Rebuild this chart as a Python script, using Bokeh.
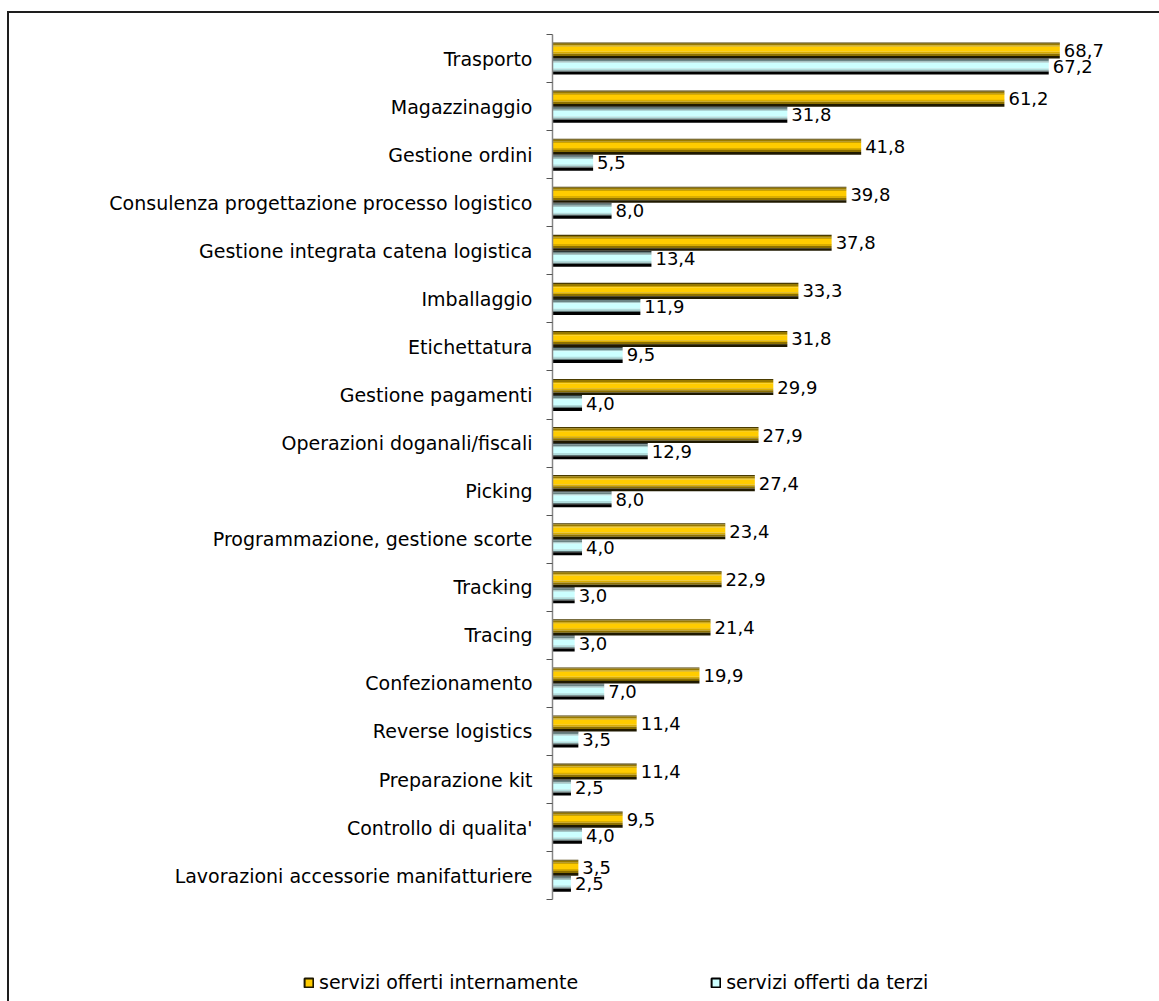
import numpy as np
from bokeh.plotting import figure
from bokeh.layouts import column, row
from bokeh.models import Range1d, FixedTicker, Legend, LegendItem, ColumnDataSource
from bokeh.embed import file_html
from bokeh.resources import INLINE
from bokeh.core.properties import value

categories = [
    "Trasporto",
    "Magazzinaggio",
    "Gestione ordini",
    "Consulenza progettazione processo logistico",
    "Gestione integrata catena logistica",
    "Imballaggio",
    "Etichettatura",
    "Gestione pagamenti",
    "Operazioni doganali/fiscali",
    "Picking",
    "Programmazione, gestione scorte",
    "Tracking",
    "Tracing",
    "Confezionamento",
    "Reverse logistics",
    "Preparazione kit",
    "Controllo di qualita'",
    "Lavorazioni accessorie manifatturiere",
]
internal = [68.7, 61.2, 41.8, 39.8, 37.8, 33.3, 31.8, 29.9, 27.9, 27.4,
            23.4, 22.9, 21.4, 19.9, 11.4, 11.4, 9.5, 3.5]
third = [67.2, 31.8, 5.5, 8.0, 13.4, 11.9, 9.5, 4.0, 12.9, 8.0,
         4.0, 3.0, 3.0, 7.0, 3.5, 2.5, 4.0, 2.5]
series_names = ["servizi offerti internamente", "servizi offerti da terzi"]

# stripe styling (fraction from top, fraction to, colour) to imitate shaded bars
orange_stripes = [(0.00, 0.07, "#4a3b00"), (0.07, 0.19, "#997a00"), (0.19, 0.27, "#cca300"),
                  (0.27, 0.58, "#ffcc00"), (0.58, 0.70, "#d9ad00"), (0.70, 0.84, "#8c7000"),
                  (0.84, 1.00, "#1f1900")]
cyan_stripes = [(0.00, 0.07, "#2e3838"), (0.07, 0.19, "#6b8585"), (0.19, 0.27, "#a3c7c7"),
                (0.27, 0.62, "#ccffff"), (0.62, 0.74, "#b0dcdc"), (0.74, 0.82, "#5c7373"),
                (0.82, 1.00, "#000000")]

FONT = "DejaVu Sans"
n = len(categories)
centers = np.arange(n) + 0.5
bar_h = 1.0 / 3.0

p = figure(width=1150, height=892,
           x_range=Range1d(0, 82.2), y_range=Range1d(18.12, 0),
           output_backend="svg", toolbar_location=None,
           min_border_left=543, min_border_top=21, min_border_right=0, min_border_bottom=0)
p.outline_line_color = None
p.xgrid.visible = False
p.ygrid.visible = False
p.xaxis.visible = False
p.background_fill_color = "white"
p.border_fill_color = "white"

def draw_bars(fig, vals, top_offsets, stripes):
    rends = []
    vals = np.array(vals)
    for f0, f1, col in stripes:
        ys = top_offsets + (f0 + f1) / 2 * bar_h
        src = ColumnDataSource(dict(y=ys, right=vals))
        r = fig.hbar(y="y", left=0, right="right", height=(f1 - f0) * bar_h * 1.02,
                     source=src, fill_color=col, line_color=None)
        rends.append(r)
    return rends

draw_bars(p, internal, centers - bar_h, orange_stripes)
draw_bars(p, third, centers, cyan_stripes)

fmt = lambda v: f"{v:.1f}".replace(".", ",")
p.text(x=internal, y=list(centers - bar_h / 2), text=[fmt(v) for v in internal],
       x_offset=4, text_baseline="middle", text_align="left",
       text_font=value(FONT), text_font_size="18px", text_color="#000000")
p.text(x=third, y=list(centers + bar_h / 2), text=[fmt(v) for v in third],
       x_offset=4, text_baseline="middle", text_align="left",
       text_font=value(FONT), text_font_size="18px", text_color="#000000")

ax = p.yaxis[0]
ax.ticker = FixedTicker(ticks=list(centers), minor_ticks=list(np.arange(n + 1).astype(float)))
ax.major_label_overrides = {float(c): lab for c, lab in zip(centers, categories)}
ax.bounds = (0, n)
ax.axis_line_color = "#868686"
ax.axis_line_width = 1.5
ax.major_tick_line_color = None
ax.major_tick_out = 0
ax.major_tick_in = 0
ax.minor_tick_line_color = "#555555"
ax.minor_tick_out = 6
ax.minor_tick_in = 0
ax.major_label_standoff = 14
ax.major_label_text_font = FONT
ax.major_label_text_font_size = "19px"
ax.major_label_text_color = "#000000"

# legend strip below the chart (its glyph renderers are hidden; only the legend shows)
pl = figure(width=1150, height=96, x_range=Range1d(0, 82.2), y_range=Range1d(18.12, 0),
            output_backend="svg", toolbar_location=None,
            min_border_left=0, min_border_top=0, min_border_right=0, min_border_bottom=0)
pl.axis.visible = False
pl.grid.visible = False
pl.outline_line_color = None
r_o = pl.hbar(y=list(centers), right=internal, height=bar_h, fill_color=orange_stripes[3][2],
              line_color=orange_stripes[6][2], line_width=2, visible=False)
r_c = pl.hbar(y=list(centers), right=third, height=bar_h, fill_color=cyan_stripes[3][2],
              line_color=cyan_stripes[6][2], line_width=2, visible=False)
legend = Legend(items=[LegendItem(label=series_names[0], renderers=[r_o]),
                       LegendItem(label=series_names[1], renderers=[r_c])],
                orientation="horizontal", location=(294, 8), spacing=132,
                glyph_width=11, glyph_height=11, label_standoff=5,
                label_text_font=FONT, label_text_font_size="19px",
                label_text_color="#000000",
                inactive_fill_alpha=0,
                border_line_color=None, background_fill_alpha=0, padding=0, margin=0)
pl.add_layout(legend)

layout = column(p, row(pl, spacing=0), spacing=0, margin=(11, 0, 0, 7))
layout.styles = {"border-left": "2px solid #1e1e1e", "border-top": "2px solid #1e1e1e"}

open("out.html", "w").write(file_html(layout, INLINE))
